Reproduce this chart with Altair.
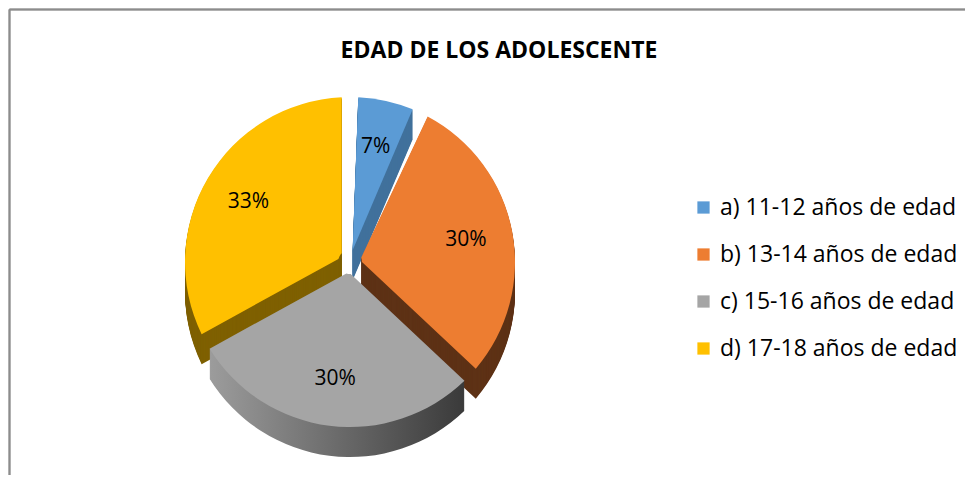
import altair as alt
import pandas as pd

# ---- data ----
title_text = ["EDAD DE LOS ADOLESCENTE"]
categories = ["a) 11-12 años de edad", "b) 13-14 años de edad",
              "c) 15-16 años de edad", "d) 17-18 años de edad"]
percentages = [7, 30, 30, 33]
order_idx = [0, 1, 2, 3]

top_colors = ["#5B9BD5", "#ED7D31", "#A5A5A5", "#FFC000"]
side_colors = ["#41719C", "#5E3216", "#6E6E6E", "#7F6000"]

df = pd.DataFrame({"cat": categories, "pct": percentages, "idx": order_idx})

CX, CY = 342, 254
R, R0, PAD = 165, 12, 0.10
DEPTH = 30

theta_scale = alt.Scale(domain=[0, 100], range=[0, 6.283185307179586])

base = alt.Chart(df).transform_window(
    end="sum(pct)", sort=[alt.SortField("idx")], frame=[None, 0]
).transform_calculate(
    start="datum.end - datum.pct", mid="datum.end - datum.pct / 2"
).encode(
    x=alt.value(CX),
    y=alt.value(CY),
)

arc_enc = dict(
    theta=alt.Theta("start:Q", scale=theta_scale),
    theta2=alt.Theta2("end:Q"),
)

gray_grad = {
    "gradient": "linear", "x1": 0, "y1": 0, "x2": 1, "y2": 0,
    "stops": [{"offset": 0, "color": "#9C9C9C"}, {"offset": 1, "color": "#3A3A3A"}],
}

layers = []
for d in range(DEPTH, 0, -1):
    layers.append(
        base.transform_filter(alt.datum.idx != 2).mark_arc(
            outerRadius=R, innerRadius=R0, padAngle=PAD, yOffset=d
        ).encode(
            fill=alt.Fill("cat:N", scale=alt.Scale(domain=categories, range=side_colors), legend=None),
            **arc_enc,
        )
    )
    layers.append(
        base.transform_filter(alt.datum.idx == 2).mark_arc(
            outerRadius=R, innerRadius=R0, padAngle=PAD, yOffset=d, fill=gray_grad
        ).encode(**arc_enc)
    )

top = base.mark_arc(outerRadius=R, innerRadius=R0, padAngle=PAD).encode(
    color=alt.Color(
        "cat:N",
        scale=alt.Scale(domain=categories, range=top_colors),
        legend=alt.Legend(
            title=None, orient="none", legendX=684, legendY=188,
            symbolType="square", symbolSize=150, symbolStrokeWidth=0,
            labelFont="Open Sans", labelFontSize=23, labelColor="#000000",
            rowPadding=23, labelOffset=5, labelLimit=400,
        ),
    ),
    **arc_enc,
)

labels = base.transform_calculate(lbl="datum.pct + '%'").mark_text(
    radius=118, font="Open Sans", fontSize=21, color="#000000"
).encode(
    theta=alt.Theta("mid:Q", scale=theta_scale),
    text="lbl:N",
)

title = alt.Chart(pd.DataFrame({"t": title_text})).mark_text(
    font="Open Sans", fontSize=23, fontWeight="bold", color="#000000",
    align="center", baseline="alphabetic",
).encode(text="t:N", x=alt.value(491), y=alt.value(50))

border_top = alt.Chart(df).mark_rule(color="#8C8C8C", strokeWidth=1.5).encode(
    x=alt.value(1.5), x2=alt.value(957), y=alt.value(1.5)
)
border_left = alt.Chart(df).mark_rule(color="#8C8C8C", strokeWidth=1.5).encode(
    x=alt.value(1.5), y=alt.value(1.5), y2=alt.value(467)
)

chart = alt.layer(*layers, top, labels, title, border_top, border_left).properties(
    width=957, height=467,
    padding=0,
    autosize=alt.AutoSizeParams(type="none"),
).resolve_scale(fill="independent").configure_view(stroke=None)

chart.save("out.html", embed_options={"renderer": "svg", "actions": False})
